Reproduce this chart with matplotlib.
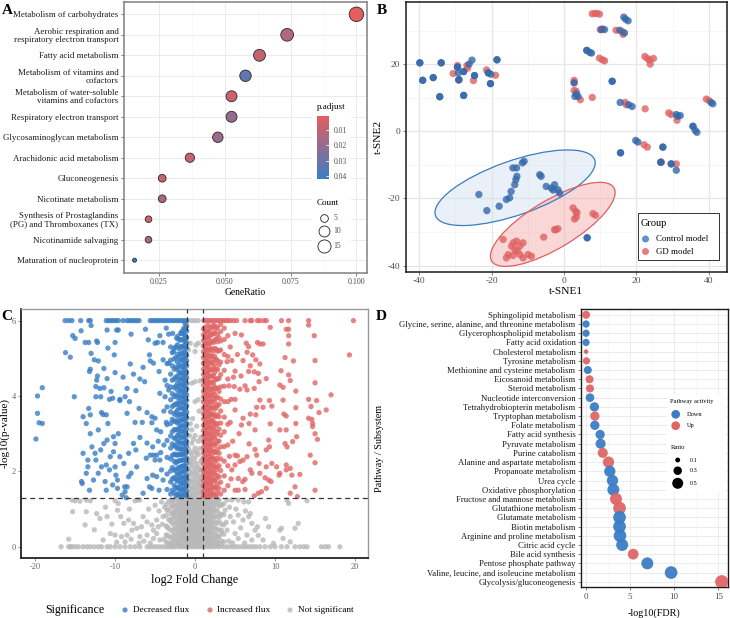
import numpy as np
import matplotlib
matplotlib.use('Agg')
import matplotlib.pyplot as plt
from matplotlib.colors import LinearSegmentedColormap, Normalize
from matplotlib.patches import Ellipse, Rectangle

plt.rcParams['font.family'] = ['Liberation Serif', 'DejaVu Serif']
plt.rcParams['axes.unicode_minus'] = False

# ---------------- data: panel A (enrichment dot plot) ----------------
a_terms = ['Metabolism of carbohydrates',
           'Aerobic respiration and\nrespiratory electron transport',
           'Fatty acid metabolism',
           'Metabolism of vitamins and\ncofactors',
           'Metabolism of water-soluble\nvitamins and cofactors',
           'Respiratory electron transport',
           'Glycosaminoglycan metabolism',
           'Arachidonic acid metabolism',
           'Gluconeogenesis',
           'Nicotinate metabolism',
           'Synthesis of Prostaglandins\n(PG) and Thromboxanes (TX)',
           'Nicotinamide salvaging',
           'Maturation of nucleoprotein']
a_ratio = [0.1000, 0.0737, 0.0632, 0.0579, 0.0526, 0.0526, 0.0474, 0.0368, 0.0263, 0.0263, 0.0211, 0.0211, 0.0158]
a_count = [19, 14, 12, 11, 10, 10, 9, 7, 5, 5, 4, 4, 3]
a_padj = [0.0007, 0.013, 0.008, 0.033, 0.007, 0.020, 0.019, 0.008, 0.009, 0.014, 0.007, 0.016, 0.042]
a_count_legend = [5, 10, 15]
a_padj_ticks = [0.01, 0.02, 0.03, 0.04]

# ---------------- data: panel B (t-SNE) ----------------
ctrl_pts = [(-39.8, 20.4), (-39.8, 20.4), (-39.0, 15.2), (-39.0, 15.2), (-36.1, 16.0), (-36.1, 16.0),
            (-33.9, 20.4), (-33.9, 20.4), (-34.3, 10.3), (-34.3, 10.3), (-29.4, 19.1), (-29.4, 19.1),
            (-29.2, 17.4), (-29.0, 15.4), (-29.0, 15.4), (-27.7, 10.7), (-27.7, 10.7), (-27.7, 17.8),
            (-27.7, 17.8), (-26.2, 20.0), (-25.4, 21.2), (-24.7, 16.6), (-24.7, 16.6), (-20.9, 17.4),
            (-20.9, 17.4), (-20.2, 17.0), (-20.3, 14.2), (-20.3, 14.2), (-18.5, 21.3), (-18.5, 21.3),
            (16.5, 34.0), (17.0, 33.4), (17.7, 32.9), (10.3, 30.3), (11.2, 30.3), (15.4, 30.1), (16.7, 29.3),
            (6.3, 24.1), (6.3, 24.1), (7.1, 23.5), (7.6, 23.3), (13.3, 14.9), (13.3, 14.9), (2.8, 14.4),
            (3.4, 11.1), (3.9, 10.4), (3.0, 10.4), (15.5, 8.6), (17.9, 7.9), (18.8, 7.4), (31.0, 5.0),
            (32.1, 4.7), (31.4, 4.5), (40.6, 8.6), (41.1, 8.2), (35.6, 1.5), (35.6, 1.5), (36.2, 0.3),
            (36.7, -0.3), (19.8, -2.7), (20.4, -3.2), (15.6, -6.4), (15.6, -6.4), (27.3, -4.7), (27.3, -4.7),
            (26.7, -9.2), (26.7, -9.2), (29.6, -9.7), (29.6, -9.7), (31.0, -11.6), (6.4, -31.7), (6.4, -31.7),
            (-23.5, -18.8), (-21.3, -23.6), (-17.9, -22.3), (-15.9, -20.3), (-15.0, -19.8), (-14.6, -17.9),
            (-13.6, -15.9), (-13.3, -14.4), (-13.0, -13.4), (-14.1, -10.9), (-13.1, -10.9), (-11.5, -9.4),
            (-11.0, -8.9), (-6.7, -12.9), (-6.3, -13.4), (-4.9, -16.4), (-3.5, -16.9), (-2.6, -15.9),
            (-1.7, -17.4), (-3.0, -17.5), (-1.2, -18.4)]
gd_pts = [(-30.6, 17.2), (-29.4, 19.6), (-29.1, 15.2), (-26.8, 19.6), (-26.6, 18.8), (-25.0, 15.1),
          (-21.4, 18.3), (-18.9, 16.7),
          (7.8, 35.0), (8.5, 35.1), (9.1, 35.1), (9.8, 34.9), (10.6, 30.5), (10.0, 30.3), (14.4, 30.1),
          (16.1, 29.7), (16.3, 28.9), (9.8, 21.8), (10.6, 21.3), (11.2, 21.0), (22.3, 22.3), (23.0, 21.7),
          (23.6, 21.2), (24.7, 21.7), (23.8, 20.0), (2.8, 15.2), (2.8, 14.6), (2.8, 12.2), (3.4, 11.9),
          (4.5, 9.4), (7.8, 10.1), (16.9, 8.6), (17.2, 7.9), (22.4, 6.7), (28.9, 5.5), (29.6, 5.0),
          (31.2, 3.3), (39.3, 9.6), (40.0, 9.2), (22.1, -4.0), (23.0, -4.7), (31.0, -9.7), (26.9, -9.2),
          (-16.8, -32.2), (-15.4, -36.7), (-14.5, -34.2), (-14.0, -33.2), (-13.6, -35.2), (-12.9, -35.7),
          (-12.2, -34.2), (-13.1, -32.7), (-11.3, -33.2), (-15.9, -37.7), (-14.1, -37.0), (-12.2, -36.7),
          (-11.3, -37.7), (-9.9, -36.7), (-9.0, -37.2), (-5.6, -31.5), (-2.6, -29.3), (-1.7, -29.0),
          (-2.3, -29.3), (2.5, -22.8), (3.2, -23.8), (3.4, -25.5), (2.9, -26.1), (3.6, -24.2),
          (8.0, -24.5), (8.7, -25.0)]
# confidence ellipses: centre x, centre y, semi-major, semi-minor, angle (deg)
ctrl_ellipse = [-13.5, -16.8, 23.5, 8.0, 21.0]
gd_ellipse = [-3.1, -27.7, 20.1, 7.0, 33.4]
b_groups = ['Control model', 'GD model']

# ---------------- data: panel C (volcano) ----------------
dec_capped_x = [-16.25, -15.8, -15.4, -14.3, -13.3, -13.1, -11.1, -10.8, -10.5, -10.2, -9.9, -9.6, -9.0,
                -8.5, -8.2, -7.9, -7.6, -7.3, -7.0, -5.6, -5.3, -5.0, -4.7, -4.4, -4.1, -3.8, -3.5, -3.2,
                -2.9, -2.6, -2.3, -2.0, -1.7, -1.4, -1.1]
dec_pts = [(-15.3, 5.6), (-15.0, 5.53), (-16.2, 5.15), (-15.6, 5.03), (-15.1, 3.98), (-19.1, 4.22),
           (-19.7, 4.0), (-19.7, 3.54), (-19.5, 3.29), (-19.1, 3.27), (-13.75, 5.42), (-13.3, 5.42),
           (-12.2, 5.42), (-12.3, 5.46), (-14.25, 5.73), (-13.0, 5.87), (-11.0, 5.75), (-9.8, 5.75),
           (-9.6, 5.75), (-8.0, 5.64), (-10.0, 5.42), (-10.9, 5.27), (-13.0, 5.13), (-12.6, 4.96),
           (-12.1, 4.93), (-10.1, 5.09), (-13.1, 4.71), (-13.2, 4.65), (-12.2, 4.53), (-11.4, 4.73),
           (-12.3, 4.42), (-11.9, 4.2), (-11.0, 4.46), (-10.0, 4.62), (-9.0, 4.5), (-8.1, 4.85),
           (-7.7, 4.58), (-6.9, 4.45), (-6.5, 4.76), (-6.3, 4.38), (-5.7, 5.09), (-5.6, 4.93), (-5.2, 4.87),
           (-4.7, 5.42), (-4.4, 5.6), (-6.2, 5.77), (-5.85, 5.49), (-5.0, 5.4), (-4.0, 5.42), (-3.6, 5.8),
           (-3.3, 5.64), (-12.4, 4.25), (-11.4, 4.22), (-10.5, 4.12), (-12.4, 3.98), (-11.8, 3.98),
           (-10.7, 3.91), (-9.4, 3.91), (-8.5, 4.2), (-8.75, 3.98), (-7.4, 4.14), (-8.2, 3.85), (-7.0, 3.67),
           (-8.5, 3.54), (-9.4, 3.88), (-10.3, 3.94), (-13.3, 3.67), (-14.0, 3.45), (-13.6, 3.27),
           (-13.1, 3.5), (-11.7, 3.56), (-11.5, 3.51), (-11.1, 3.5), (-10.9, 3.27), (-6.0, 3.56),
           (-5.4, 3.45), (-5.0, 3.41), (-4.4, 4.07), (-3.75, 3.98), (-3.3, 4.16), (-3.75, 4.42), (-4.5, 4.65),
           (-4.0, 4.96), (-3.3, 4.87), (-2.7, 5.18), (-2.8, 5.66), (-2.3, 5.53), (-1.7, 5.66),
           (-19.9, 2.86), (-14.0, 2.48), (-14.2, 1.73), (-14.1, 1.68), (-13.6, 1.95), (-13.4, 2.3),
           (-13.4, 2.12), (-13.1, 3.0), (-12.9, 2.65), (-12.5, 2.48), (-13.2, 1.5), (-12.7, 1.77),
           (-12.1, 3.1), (-12.4, 2.3), (-12.1, 1.95), (-11.8, 2.57), (-11.7, 2.12), (-11.4, 2.74),
           (-11.1, 2.17), (-11.0, 2.83), (-11.25, 1.73), (-11.1, 1.5), (-10.6, 2.39), (-10.7, 2.04),
           (-10.2, 2.92), (-10.0, 2.74), (-10.2, 2.52), (-10.0, 2.12), (-9.9, 1.9), (-9.7, 1.77),
           (-10.3, 1.64), (-9.7, 1.55), (-9.6, 3.0), (-9.4, 2.39), (-8.9, 2.21), (-8.75, 1.46), (-8.5, 1.59),
           (-8.3, 1.86), (-8.0, 1.95), (-7.7, 2.74), (-7.4, 2.57), (-7.3, 2.12), (-8.3, 2.48), (-8.8, 1.59),
           (-9.1, 1.37), (-8.6, 1.3), (-6.5, 1.42), (-6.0, 1.81), (-5.7, 1.59), (-5.4, 1.55), (-5.3, 1.9),
           (-5.0, 2.3), (-4.4, 2.3), (-4.2, 2.04), (-6.1, 2.35), (-5.2, 2.43), (-4.8, 1.86), (-4.5, 1.5),
           (-4.0, 1.77), (-5.6, 2.43), (-4.8, 2.43), (-5.4, 3.29), (-4.8, 3.1), (-4.3, 3.05), (-6.6, 3.3),
           (-7.5, 3.3), (-6.9, 2.9), (-6.0, 2.75), (-5.3, 2.65), (-4.6, 2.8), (-3.9, 2.7), (-3.6, 3.3),
           (-3.9, 3.6), (-4.3, 2.5)]
dec_band_x = [-1.05, -1.25, -1.4, -1.6, -1.8, -2.0, -2.2, -2.4, -2.6, -2.85, -3.05, -3.5]
dec_band_y = [
    [1.34, 1.47, 1.63, 1.78, 1.9, 2.06, 2.22, 2.35, 2.51, 2.68, 2.8, 2.97, 3.12, 3.26, 3.43, 3.57, 3.74,
     3.88, 4.03, 4.19, 4.33, 4.49, 4.62, 4.8, 4.94, 5.08, 5.27, 5.41, 5.55, 5.72, 5.86],
    [1.4, 1.55, 1.7, 1.84, 2.0, 2.13, 2.29, 2.44, 2.58, 2.73, 2.88, 3.03, 3.18, 3.34, 3.48, 3.63, 3.79,
     3.93, 4.08, 4.24, 4.39, 4.54, 4.69, 4.84, 4.99, 5.14, 5.3, 5.45, 5.6, 5.76, 5.92],
    [1.41, 1.56, 1.72, 1.86, 2.02, 2.15, 2.31, 2.47, 2.61, 2.76, 2.92, 3.05, 3.21, 3.37, 3.52, 3.66, 3.83,
     3.97, 4.11, 4.27, 4.42, 4.57, 4.73, 4.88, 5.03, 5.19, 5.34, 5.49, 5.64, 5.8],
    [1.36, 1.52, 1.68, 1.82, 1.99, 2.14, 2.3, 2.45, 2.6, 2.75, 2.91, 3.07, 3.22, 3.38, 3.53, 3.69, 3.84,
     4.0, 4.16, 4.31, 4.47, 4.63, 4.79, 4.96, 5.13, 5.31, 5.5, 5.72],
    [1.33, 1.5, 1.66, 1.83, 1.98, 2.12, 2.29, 2.44, 2.58, 2.74, 2.9, 3.06, 3.19, 3.35, 3.5, 3.68, 3.81,
     3.96, 4.14, 4.3, 4.45, 4.6, 4.77, 4.95, 5.12, 5.3, 5.48, 5.67],
    [1.41, 1.58, 1.76, 1.93, 2.1, 2.28, 2.45, 2.63, 2.8, 2.98, 3.15, 3.33, 3.51, 3.69, 3.87, 4.05, 4.24,
     4.43, 4.62, 4.82, 5.03, 5.25, 5.5],
    [1.38, 1.55, 1.74, 1.9, 2.07, 2.26, 2.43, 2.6, 2.77, 2.95, 3.1, 3.28, 3.46, 3.62, 3.79, 3.97, 4.16,
     4.34, 4.52, 4.71, 4.9, 5.11, 5.36, 5.58],
    [1.36, 1.57, 1.79, 2.0, 2.22, 2.44, 2.66, 2.88, 3.1, 3.33, 3.56, 3.79, 4.02, 4.26, 4.5, 4.76, 5.02, 5.3],
    [1.44, 1.63, 1.84, 2.05, 2.27, 2.46, 2.68, 2.88, 3.11, 3.33, 3.52, 3.76, 3.98, 4.22, 4.45, 4.71, 4.98, 5.27],
    [1.5, 1.8, 2.1, 2.42, 2.73, 3.05, 3.38, 3.72, 4.06, 4.42, 4.8, 5.15],
    [1.4, 1.72, 2.01, 2.33, 2.62, 2.94, 3.27, 3.58, 3.9, 4.24, 4.58, 4.95, 5.3],
    [1.52, 1.93, 2.37, 2.82, 3.24, 3.71, 4.28, 4.86]]

inc_capped_x = [1.1, 1.4, 1.7, 2.0, 2.3, 2.6, 2.9, 3.2, 3.5, 3.8, 4.1, 4.4, 4.8, 5.2, 6.25, 6.9, 7.1, 7.8,
                8.1, 8.6, 8.9, 10.8, 11.7, 14.2, 19.8]
inc_pts = [(9.4, 5.82), (11.4, 5.77), (11.7, 5.77), (14.2, 5.88), (14.9, 5.6), (11.7, 5.6), (5.0, 5.66),
           (5.8, 5.62), (6.4, 5.4), (7.8, 5.42), (8.1, 5.38), (8.5, 5.38), (6.7, 5.31), (11.7, 5.38),
           (6.5, 5.16), (7.2, 5.09), (7.6, 4.96), (6.9, 4.8), (8.1, 4.85), (6.0, 4.94), (4.0, 4.91),
           (4.6, 4.94), (12.3, 4.93), (11.25, 5.02), (15.0, 4.94), (19.3, 5.09), (5.0, 4.66), (5.75, 4.53),
           (6.7, 4.65), (7.4, 4.64), (7.9, 4.6), (8.0, 4.38), (8.9, 4.46), (10.75, 4.67), (11.7, 4.56),
           (11.9, 4.41), (15.0, 4.35), (4.25, 4.27), (4.9, 4.25), (5.6, 4.18), (6.25, 4.27), (6.5, 4.16),
           (7.4, 4.2), (10.6, 4.29), (11.0, 4.23), (12.6, 4.13), (14.2, 3.91), (15.2, 3.88), (17.0, 4.03),
           (4.5, 3.91), (5.0, 3.91), (8.1, 3.89), (9.3, 3.88), (11.0, 3.89), (7.7, 3.7), (8.5, 3.7),
           (9.6, 3.73), (12.6, 3.69), (14.5, 3.72), (15.5, 3.56), (16.4, 3.63), (6.9, 3.52), (7.6, 3.5),
           (11.1, 3.52), (11.4, 3.47), (14.2, 3.41), (14.6, 3.38), (14.7, 3.27), (6.0, 3.41), (5.0, 3.63),
           (5.8, 3.23), (6.75, 3.27), (7.5, 3.1), (9.4, 3.26), (10.6, 3.1), (11.4, 3.1), (12.6, 3.27),
           (12.7, 2.92), (14.7, 3.19), (15.0, 3.0), (15.3, 2.85), (6.75, 2.73), (7.5, 2.58), (9.2, 2.83),
           (9.3, 2.65), (11.25, 2.74), (11.5, 2.65), (12.2, 2.79), (14.4, 2.43), (15.0, 2.23), (5.0, 2.43),
           (5.3, 2.41), (6.5, 2.39), (7.7, 2.43), (8.9, 2.57), (5.6, 2.26), (8.0, 2.21), (8.9, 2.12),
           (9.6, 2.21), (10.2, 2.12), (11.4, 2.17), (11.9, 2.08), (11.4, 2.04), (6.9, 2.04), (7.1, 1.95),
           (5.4, 1.81), (6.25, 1.79), (5.96, 1.73), (8.1, 1.95), (8.75, 1.83), (9.2, 1.77), (9.5, 1.73),
           (10.5, 1.9), (10.6, 1.95), (12.1, 1.9), (13.1, 1.92), (12.5, 1.59), (15.0, 1.5), (5.0, 1.5),
           (5.4, 1.5), (6.25, 1.52), (7.9, 1.42), (8.3, 1.46), (8.9, 1.55), (11.9, 1.42), (12.8, 1.33),
           (7.4, 1.35), (6.0, 2.3), (4.6, 2.04), (5.0, 2.17), (4.4, 3.3), (4.7, 2.8), (4.3, 2.4), (4.5, 1.8),
           (4.8, 4.5), (5.3, 5.1), (4.4, 5.3), (5.5, 3.0)]
inc_band_x = [1.05, 1.25, 1.4, 1.6, 1.75, 1.95, 2.1, 2.3, 2.45, 2.65, 2.8, 3.0, 3.2, 3.65, 4.1]
inc_band_y = [
    [1.33, 1.46, 1.61, 1.75, 1.91, 2.04, 2.19, 2.36, 2.49, 2.63, 2.79, 2.94, 3.08, 3.22, 3.39, 3.53, 3.68,
     3.84, 3.98, 4.12, 4.28, 4.43, 4.57, 4.71, 4.87, 5.02, 5.17, 5.33, 5.47, 5.62, 5.78],
    [1.36, 1.51, 1.66, 1.8, 1.96, 2.1, 2.25, 2.4, 2.54, 2.69, 2.84, 2.99, 3.13, 3.28, 3.43, 3.58, 3.72,
     3.87, 4.02, 4.17, 4.32, 4.47, 4.61, 4.76, 4.91, 5.06, 5.21, 5.36, 5.51, 5.66, 5.82],
    [1.39, 1.53, 1.69, 1.83, 1.97, 2.13, 2.27, 2.42, 2.57, 2.71, 2.86, 3.01, 3.15, 3.31, 3.45, 3.61, 3.76,
     3.9, 4.05, 4.2, 4.35, 4.5, 4.64, 4.79, 4.95, 5.1, 5.24, 5.4, 5.55, 5.7],
    [1.42, 1.57, 1.72, 1.88, 2.03, 2.18, 2.33, 2.48, 2.63, 2.78, 2.93, 3.08, 3.24, 3.39, 3.54, 3.69, 3.84,
     3.99, 4.14, 4.3, 4.45, 4.6, 4.76, 4.91, 5.07, 5.23, 5.39, 5.56, 5.73, 5.88],
    [1.35, 1.5, 1.66, 1.81, 1.95, 2.11, 2.25, 2.41, 2.55, 2.7, 2.85, 3.0, 3.16, 3.3, 3.46, 3.6, 3.75,
     3.91, 4.06, 4.22, 4.37, 4.53, 4.68, 4.85, 5.01, 5.18, 5.35, 5.52, 5.69],
    [1.34, 1.5, 1.67, 1.83, 2.0, 2.16, 2.33, 2.49, 2.66, 2.82, 2.99, 3.16, 3.33, 3.5, 3.67, 3.84, 4.01,
     4.18, 4.35, 4.52, 4.7, 4.88, 5.06, 5.24, 5.43, 5.62, 5.82],
    [1.42, 1.58, 1.74, 1.9, 2.06, 2.22, 2.38, 2.55, 2.71, 2.87, 3.03, 3.2, 3.36, 3.52, 3.69, 3.86, 4.02,
     4.19, 4.36, 4.53, 4.7, 4.88, 5.06, 5.25, 5.44, 5.63, 5.8],
    [1.4, 1.59, 1.78, 1.97, 2.16, 2.35, 2.54, 2.74, 2.93, 3.13, 3.32, 3.52, 3.72, 3.92, 4.12, 4.33, 4.54,
     4.75, 4.97, 5.19, 5.42, 5.66, 5.88],
    [1.37, 1.55, 1.74, 1.93, 2.12, 2.31, 2.5, 2.69, 2.88, 3.07, 3.26, 3.46, 3.65, 3.84, 4.04, 4.23, 4.43,
     4.63, 4.84, 5.05, 5.26, 5.48, 5.67, 5.85],
    [1.35, 1.58, 1.81, 2.04, 2.27, 2.5, 2.74, 2.98, 3.22, 3.46, 3.7, 3.95, 4.2, 4.45, 4.71, 4.97, 5.24,
     5.52, 5.78],
    [1.45, 1.67, 1.89, 2.12, 2.35, 2.58, 2.81, 3.04, 3.27, 3.5, 3.74, 3.97, 4.21, 4.45, 4.7, 4.94, 5.19,
     5.44, 5.64, 5.83],
    [1.55, 1.85, 2.15, 2.48, 2.8, 3.12, 3.45, 3.78, 4.12, 4.47, 4.83, 5.2, 5.55],
    [1.4, 1.71, 2.02, 2.33, 2.65, 2.96, 3.28, 3.6, 3.92, 4.24, 4.57, 4.9, 5.22, 5.46, 5.71, 5.9],
    [1.5, 1.88, 2.27, 2.66, 3.05, 3.44, 3.85, 4.26, 4.68, 5.1, 5.5, 5.8],
    [1.62, 2.15, 2.7, 3.25, 3.85, 4.45, 5.05, 5.6]]

ns_zero_x = [-16.75, -15.8, -15.6, -15.4, -15.0, -14.6, -14.0, -13.5, -13.1, -12.6, -12.1, -11.7, -11.0,
             -10.6, -10.0, -9.4, -8.75, -8.1, -7.5, -6.9, -6.0, -5.6, -5.2, -4.8, -4.4, -4.0, 4.0, 4.4, 4.8,
             5.2, 5.6, 6.0, 6.4, 6.8, 7.2, 7.6, 8.1, 8.75, 9.4, 10.0, 10.8, 11.5, 12.5, 13.1, 13.6, 14.0,
             15.8, 16.3, 16.7, 18.1]
ns_pts = [(-15.8, 0.2), (-15.4, 1.24), (-15.0, 1.22), (-14.4, 1.21), (-13.6, 1.24), (-13.1, 1.22),
          (-15.3, 0.93), (-13.6, 0.93), (-13.75, 0.58), (-12.3, 0.88), (-11.9, 0.75), (-11.0, 0.8),
          (-10.0, 1.22), (-9.6, 1.15), (-9.7, 0.97), (-9.3, 0.8), (-8.9, 0.62), (-8.3, 0.71), (-7.7, 0.62),
          (-7.9, 0.44), (-7.3, 0.49), (-6.7, 0.53), (-7.2, 1.24), (-7.5, 1.22), (-6.9, 1.24), (-6.5, 0.8),
          (-6.0, 0.66), (-5.4, 0.58), (-5.2, 0.44), (-4.8, 0.71), (-4.6, 0.53), (-4.0, 0.8), (-3.5, 0.97),
          (-3.5, 0.53), (-4.2, 1.19), (-10.6, 0.35), (-10.0, 0.31), (-11.5, 0.18), (-9.2, 0.27),
          (-8.75, 0.13), (-8.5, 0.31), (-6.9, 0.27), (-6.0, 0.31), (-5.2, 0.22), (-4.8, 0.35), (-4.4, 0.18),
          (-3.5, 0.31), (-3.1, 0.71), (-2.7, 0.88), (-2.9, 1.15), (-5.8, 1.0), (-5.0, 1.1), (-4.5, 0.95),
          (-4.1, 0.6), (-3.9, 0.2), (-5.6, 0.1), (-6.4, 0.15), (-7.0, 0.1), (-8.0, 0.2), (-9.8, 0.12),
          (-10.4, 0.6), (-12.6, 0.45), (-11.2, 1.05), (-8.2, 1.0), (-3.8, 1.05),
          (2.9, 1.22), (3.3, 1.1), (4.0, 1.24), (4.6, 1.24), (5.4, 1.24), (6.1, 1.19), (6.7, 1.19),
          (11.5, 1.24), (11.7, 1.15), (14.0, 1.22), (2.3, 0.93), (3.1, 0.8), (3.75, 0.97), (4.4, 0.8),
          (4.8, 0.66), (5.4, 0.84), (6.0, 0.71), (6.7, 0.8), (7.1, 0.62), (6.9, 0.88), (7.5, 0.44),
          (7.8, 0.53), (9.2, 0.53), (10.6, 0.44), (10.8, 0.49), (12.5, 0.49), (12.9, 0.62), (4.0, 0.44),
          (5.0, 0.35), (5.4, 0.22), (6.5, 0.31), (7.1, 0.18), (8.5, 0.18), (9.8, 0.09), (11.0, 0.22),
          (11.9, 0.13), (2.9, 0.27), (3.3, 0.44), (4.3, 1.05), (5.1, 1.0), (5.7, 0.5), (6.3, 0.95),
          (4.2, 0.15), (4.7, 0.1), (7.9, 0.3), (8.8, 0.75), (6.2, 0.1), (3.9, 0.65),
          (-0.83, 6.0), (-0.4, 6.0), (0.0, 6.0), (0.4, 6.0), (0.4, 5.4), (0.1, 5.35), (0.0, 5.18),
          (-0.83, 5.22), (-0.6, 5.4), (0.0, 4.38), (-0.4, 4.34), (0.6, 4.4), (0.4, 3.9), (0.0, 3.85),
          (-1.0, 3.4), (-0.6, 3.26), (0.5, 3.6), (-0.3, 3.4), (0.2, 3.2), (0.7, 2.9), (-0.7, 2.95),
          (0.6, 2.6), (-0.6, 2.3), (0.8, 2.25), (0.7, 1.7), (-0.9, 1.75), (0.9, 1.5)]
ns_band_x = [-3.6, -3.3, -3.0, -2.75, -2.5, -2.25, -2.0, -1.8, -1.6, -1.4, -1.2, -1.0, -0.8, -0.6, -0.4,
             -0.2, 0.0, 0.2, 0.4, 0.6, 0.8, 1.0, 1.2, 1.4, 1.6, 1.8, 2.0, 2.25, 2.5, 2.75, 3.0, 3.3, 3.6]
ns_band_y = [
    [0.0, 0.12, 0.31, 0.55, 0.83, 1.12],
    [0.0, 0.1, 0.27, 0.48, 0.72, 0.97, 1.2],
    [0.0, 0.09, 0.24, 0.43, 0.66, 0.87, 1.06, 1.24],
    [0.0, 0.06, 0.16, 0.3, 0.45, 0.6, 0.76, 0.92, 1.08, 1.23],
    [0.0, 0.08, 0.19, 0.33, 0.49, 0.64, 0.79, 0.96, 1.1, 1.25],
    [0.03, 0.12, 0.23, 0.36, 0.48, 0.6, 0.73, 0.86, 0.98, 1.11, 1.24],
    [0.0, 0.07, 0.17, 0.29, 0.41, 0.54, 0.67, 0.79, 0.92, 1.04, 1.17, 1.28],
    [0.02, 0.1, 0.21, 0.32, 0.44, 0.56, 0.68, 0.8, 0.92, 1.04, 1.16, 1.27],
    [0.0, 0.06, 0.15, 0.26, 0.37, 0.49, 0.61, 0.72, 0.84, 0.97, 1.09, 1.21, 1.29],
    [0.03, 0.1, 0.2, 0.31, 0.42, 0.54, 0.66, 0.77, 0.89, 1.01, 1.13, 1.25],
    [0.0, 0.05, 0.13, 0.23, 0.34, 0.45, 0.57, 0.68, 0.8, 0.91, 1.03, 1.15, 1.27],
    [0.02, 0.1, 0.2, 0.3, 0.42, 0.53, 0.64, 0.76, 0.88, 1.0, 1.12, 1.24],
    [0.0, 0.06, 0.14, 0.25, 0.36, 0.47, 0.59, 0.7, 0.82, 0.94, 1.06, 1.18, 1.29, 1.45, 1.62, 1.83, 2.05, 2.27, 2.6],
    [0.03, 0.1, 0.2, 0.31, 0.43, 0.54, 0.65, 0.77, 0.89, 1.01, 1.13, 1.25, 1.38, 1.55, 1.75, 1.98, 2.2, 2.5],
    [0.0, 0.07, 0.16, 0.27, 0.38, 0.5, 0.62, 0.73, 0.85, 0.97, 1.09, 1.21, 1.35, 1.52, 1.7, 1.91, 2.14, 2.4, 2.75, 3.1],
    [0.02, 0.1, 0.19, 0.3, 0.41, 0.52, 0.64, 0.76, 0.87, 0.99, 1.11, 1.23, 1.4, 1.58, 1.78, 2.0, 2.25, 2.52, 2.85],
    [0.0, 0.05, 0.13, 0.24, 0.35, 0.46, 0.58, 0.69, 0.81, 0.93, 1.05, 1.17, 1.3, 1.47, 1.66, 1.88, 2.1, 2.36, 2.62, 2.95],
    [0.03, 0.1, 0.2, 0.31, 0.42, 0.53, 0.65, 0.76, 0.88, 1.0, 1.12, 1.24, 1.4, 1.57, 1.77, 1.99, 2.22, 2.5],
    [0.0, 0.06, 0.15, 0.26, 0.37, 0.48, 0.6, 0.71, 0.83, 0.95, 1.07, 1.19, 1.33, 1.5, 1.68, 1.9, 2.12, 2.45, 2.8],
    [0.02, 0.11, 0.21, 0.32, 0.43, 0.55, 0.66, 0.78, 0.9, 1.02, 1.14, 1.26, 1.42, 1.6, 1.82, 2.05],
    [0.0, 0.07, 0.16, 0.27, 0.38, 0.49, 0.61, 0.72, 0.84, 0.96, 1.08, 1.2, 1.29, 1.44, 1.6, 1.8, 2.02, 2.3],
    [0.03, 0.1, 0.2, 0.31, 0.42, 0.53, 0.65, 0.77, 0.89, 1.01, 1.13, 1.25],
    [0.0, 0.05, 0.14, 0.24, 0.35, 0.46, 0.58, 0.69, 0.81, 0.92, 1.04, 1.16, 1.28],
    [0.02, 0.1, 0.21, 0.32, 0.44, 0.56, 0.68, 0.8, 0.92, 1.04, 1.16, 1.27],
    [0.0, 0.06, 0.16, 0.27, 0.38, 0.5, 0.62, 0.74, 0.86, 0.98, 1.1, 1.22],
    [0.03, 0.12, 0.23, 0.35, 0.47, 0.59, 0.71, 0.83, 0.95, 1.07, 1.2],
    [0.0, 0.07, 0.18, 0.3, 0.42, 0.55, 0.68, 0.8, 0.93, 1.05, 1.18, 1.29],
    [0.02, 0.12, 0.24, 0.37, 0.5, 0.63, 0.77, 0.9, 1.04, 1.18],
    [0.0, 0.09, 0.2, 0.34, 0.5, 0.65, 0.8, 0.97, 1.12, 1.26],
    [0.04, 0.15, 0.29, 0.45, 0.62, 0.79, 0.96, 1.13, 1.27],
    [0.0, 0.1, 0.26, 0.45, 0.67, 0.88, 1.08, 1.25],
    [0.02, 0.15, 0.36, 0.6, 0.86, 1.12],
    [0.0, 0.13, 0.33, 0.58, 0.85, 1.14]]
c_capped = 6.0
c_fc_cut = 1.0
c_p_cut = 1.301
c_classes = ['Decreased flux', 'Increased flux', 'Not significant']

# ---------------- data: panel D (pathway dot plot) ----------------
d_paths = ['Sphingolipid metabolism', 'Glycine, serine, alanine, and threonine metabolism',
           'Glycerophospholipid metabolism', 'Fatty acid oxidation', 'Cholesterol metabolism',
           'Tyrosine metabolism', 'Methionine and cysteine metabolism', 'Eicosanoid metabolism',
           'Steroid metabolism', 'Nucleotide interconversion', 'Tetrahydrobiopterin metabolism',
           'Tryptophan metabolism', 'Folate metabolism', 'Fatty acid synthesis', 'Pyruvate metabolism',
           'Purine catabolism', 'Alanine and aspartate metabolism', 'Propanoate metabolism', 'Urea cycle',
           'Oxidative phosphorylation', 'Fructose and mannose metabolism', 'Glutathione metabolism',
           'Glutamate metabolism', 'Biotin metabolism', 'Arginine and proline metabolism',
           'Citric acid cycle', 'Bile acid synthesis', 'Pentose phosphate pathway',
           'Valine, leucine, and isoleucine metabolism', 'Glycolysis/gluconeogenesis']
d_fdr = [0.0, 0.0, 0.0, 0.0, 0.0, 0.05, 0.2, 0.4, 0.45, 0.45, 0.95, 1.0, 1.0, 1.6, 1.65, 1.9, 2.55, 2.7,
         3.0, 3.1, 3.4, 3.8, 3.8, 3.8, 3.85, 4.1, 5.35, 6.95, 9.65, 15.4]
d_activity = ['Up', 'Down', 'Down', 'Down', 'Up', 'Up', 'Down', 'Up', 'Up', 'Down', 'Down', 'Up', 'Down',
              'Down', 'Down', 'Up', 'Up', 'Down', 'Down', 'Down', 'Up', 'Up', 'Down', 'Down', 'Down', 'Down',
              'Up', 'Down', 'Down', 'Up']
d_ratio = [0.27, 0.22, 0.22, 0.22, 0.09, 0.22, 0.27, 0.27, 0.27, 0.31, 0.36, 0.36, 0.36, 0.36, 0.42, 0.42,
           0.53, 0.53, 0.53, 0.60, 0.60, 0.67, 0.67, 0.67, 0.67, 0.60, 0.48, 0.60, 0.67, 0.74]
d_ratio_legend = [0.1, 0.3, 0.5]

# ---------------- styling ----------------
W, H = 730, 618
BLUE = '#3A7DC4'
RED = '#E06666'
GREY = '#B8B8B8'
TICK_C = '#4D4D4D'

fig = plt.figure(figsize=(7.3, 6.18), dpi=100)


def px_axes(left, top, right, bottom):
    # axes placed by pixel box (origin at top-left)
    return fig.add_axes([left / W, 1 - bottom / H, (right - left) / W, (bottom - top) / H])


def area(d_px):
    # marker diameter in pixels -> scatter size (points^2)
    return (d_px * 0.72) ** 2


def size_a(c):
    return area(4 + 10.5 * np.sqrt((c - 3) / 16))


def size_d(r):
    return area(15.5 * np.sqrt(r))


# ================= Panel A =================
axA = px_axes(124, 2, 367, 272.5)
cmap_p = LinearSegmentedColormap.from_list('padj', ['#E45E5E', '#3A7DC4'])
norm_p = Normalize(min(a_padj), max(a_padj))
yA = np.arange(len(a_terms))
axA.scatter(a_ratio, yA, s=[size_a(c) for c in a_count], c=a_padj, cmap=cmap_p, norm=norm_p,
            edgecolors='#2a2a2a', linewidths=0.6, zorder=3)
axA.set_xlim(0.0118, 0.1040)
axA.set_ylim(len(a_terms) - 0.4, -0.6)
axA.set_yticks(yA)
axA.set_yticklabels(a_terms, fontsize=6.4, color='#1a1a1a', linespacing=1.0)
axA.set_xticks([0.025, 0.050, 0.075, 0.100])
axA.set_xticklabels(['0.025', '0.050', '0.075', '0.100'])
axA.set_xticks([0.0375, 0.0625, 0.0875], minor=True)
axA.tick_params(axis='x', labelsize=5.8, labelcolor=TICK_C, color=TICK_C, length=2, width=0.5, pad=2)
axA.tick_params(axis='y', color=TICK_C, length=2, width=0.5, pad=2)
axA.tick_params(which='minor', length=0)
axA.set_axisbelow(True)
axA.grid(True, which='major', color='#E8E8E8', lw=0.6)
axA.grid(True, which='minor', axis='x', color='#F3F3F3', lw=0.4)
for sp in axA.spines.values():
    sp.set_color('#808080')
    sp.set_linewidth(1.1)
axA.set_xlabel('GeneRatio', fontsize=6.9)
axA.xaxis.set_label_coords(0.5, (272.5 - 292.7) / 270.5)
axA.xaxis.label.set_va('center')
axA.add_patch(Rectangle((0.775, 0.06), 0.16, 0.58, transform=axA.transAxes, facecolor='white',
                        edgecolor='none', zorder=1))

caxA = px_axes(317, 115.7, 329, 179)
sm = plt.cm.ScalarMappable(norm=norm_p, cmap=cmap_p)
cb = fig.colorbar(sm, cax=caxA)
caxA.invert_yaxis()
cb.set_ticks(a_padj_ticks)
cb.set_ticklabels([f'{t:.2f}' for t in a_padj_ticks])
cb.outline.set_visible(False)
caxA.tick_params(labelsize=5.5, labelcolor=TICK_C, color='white', direction='in', length=2.5, width=0.6, pad=3.5)

# ================= Panel B =================
axB = px_axes(405.7, 1.7, 727, 271.7)
bx_c, by_c = np.array(ctrl_pts).T
bx_g, by_g = np.array(gd_pts).T
for ell, edge, face in [(ctrl_ellipse, '#3C7BC0', '#D6E2F3'), (gd_ellipse, '#E05E5E', '#F4B0B0')]:
    cx, cy, a_, b_, ang = ell
    axB.add_patch(Ellipse((cx, cy), 2 * a_, 2 * b_, angle=ang, facecolor=face, alpha=0.5,
                          edgecolor='none', zorder=1.5))
    axB.add_patch(Ellipse((cx, cy), 2 * a_, 2 * b_, angle=ang, facecolor='none',
                          edgecolor=edge, lw=0.9, zorder=1.6))
axB.scatter(bx_g, by_g, s=area(7.3), color='#E06262', alpha=0.8, edgecolors='none', zorder=3)
axB.scatter(bx_c, by_c, s=area(7.3), color='#3467AA', alpha=0.8, edgecolors='none', zorder=3)
axB.set_xlim(-43.7, 45.0)
axB.set_ylim(-41.8, 38.6)
axB.set_xticks([-40, -20, 0, 20, 40])
axB.set_yticks([-40, -20, 0, 20])
axB.set_xticks([-30, -10, 10, 30], minor=True)
axB.set_yticks([-30, -10, 10, 30], minor=True)
axB.tick_params(labelsize=6.8, labelcolor=TICK_C, color=TICK_C, length=2, width=0.5, pad=2)
axB.tick_params(which='minor', length=0)
axB.set_axisbelow(True)
axB.grid(True, which='major', color='#E6E6E6', lw=0.9)
axB.grid(True, which='minor', color='#F3F3F3', lw=0.5)
for sp in axB.spines.values():
    sp.set_color('#1a1a1a')
    sp.set_linewidth(1.1)
axB.set_xlabel('t-SNE1', fontsize=8.2)
axB.xaxis.set_label_coords(0.5, (271.7 - 291.7) / 270)
axB.xaxis.label.set_va('center')
axB.set_ylabel('t-SNE2', fontsize=8.2)
axB.yaxis.set_label_coords((378 - 405.7) / 321.3, 0.5)
axB.yaxis.label.set_va('center')

# ================= Panel C =================
axC = px_axes(20.7, 309.3, 368.3, 557.7)
ns_x = list(ns_zero_x) + [p[0] for p in ns_pts]
ns_y = [0.0] * len(ns_zero_x) + [p[1] for p in ns_pts]
for bx, col in zip(ns_band_x, ns_band_y):
    ns_x += [bx] * len(col)
    ns_y += col
dec_x = list(dec_capped_x) + [p[0] for p in dec_pts]
dec_y = [c_capped] * len(dec_capped_x) + [p[1] for p in dec_pts]
for bx, col in zip(dec_band_x, dec_band_y):
    dec_x += [bx] * len(col)
    dec_y += col
inc_x = list(inc_capped_x) + [p[0] for p in inc_pts]
inc_y = [c_capped] * len(inc_capped_x) + [p[1] for p in inc_pts]
for bx, col in zip(inc_band_x, inc_band_y):
    inc_x += [bx] * len(col)
    inc_y += col
c_size = area(5.3)
axC.scatter(ns_x, ns_y, s=c_size, color=GREY, alpha=0.8, edgecolors='none', zorder=2)
axC.scatter(dec_x, dec_y, s=c_size, color=BLUE, alpha=0.8, edgecolors='none', zorder=3)
axC.scatter(inc_x, inc_y, s=c_size, color=RED, alpha=0.8, edgecolors='none', zorder=3)
for v in (-c_fc_cut, c_fc_cut):
    axC.axvline(v, color='#333333', lw=0.9, ls=(0, (4, 3)), zorder=4)
axC.axhline(c_p_cut, color='#333333', lw=0.9, ls=(0, (4, 3)), zorder=4)
axC.set_xlim(-21.8, 21.66)
axC.set_ylim(-0.29, 6.30)
axC.set_xticks([-20, -10, 0, 10, 20])
axC.set_yticks([0, 2, 4, 6])
axC.tick_params(labelsize=6.0, labelcolor='#666666', color='#666666', length=2, width=0.5, pad=1.5)
for k in ('top', 'right'):
    axC.spines[k].set_color('#9a9a9a')
    axC.spines[k].set_linewidth(1.0)
for k in ('left', 'bottom'):
    axC.spines[k].set_color('#222222')
    axC.spines[k].set_linewidth(1.3)
axC.set_xlabel('log2 Fold Change', fontsize=8.7)
axC.xaxis.set_label_coords(0.5, (557.7 - 580) / 248.4)
axC.xaxis.label.set_va('center')
axC.set_ylabel('-log10(p-value)', fontsize=8.0)
axC.yaxis.set_label_coords((5 - 20.7) / 347.6, 0.5)
axC.yaxis.label.set_va('center')

# ================= Panel D =================
axD = px_axes(581, 309.3, 727.7, 587.3)
yD = np.arange(len(d_paths))
d_colors = [BLUE if a == 'Down' else RED for a in d_activity]
axD.scatter(d_fdr, yD, s=[size_d(r) for r in d_ratio], c=d_colors, alpha=0.95, edgecolors='none', zorder=3)
axD.set_xlim(-0.57, 16.07)
axD.set_ylim(len(d_paths) - 0.4, -0.6)
axD.set_yticks(yD)
axD.set_yticklabels(d_paths, fontsize=6.2, color='#1a1a1a')
axD.set_xticks([0, 5, 10, 15])
axD.set_xticks([2.5, 7.5, 12.5], minor=True)
axD.tick_params(axis='x', labelsize=6.5, labelcolor=TICK_C, color=TICK_C, length=2, width=0.5, pad=2)
axD.tick_params(axis='y', color=TICK_C, length=2, width=0.5, pad=2)
axD.tick_params(which='minor', length=0)
axD.set_axisbelow(True)
axD.grid(True, which='major', color='#E8E8E8', lw=0.6)
axD.grid(True, which='minor', axis='x', color='#F3F3F3', lw=0.4)
for sp in axD.spines.values():
    sp.set_color('#1a1a1a')
    sp.set_linewidth(1.0)
axD.set_xlabel('-log10(FDR)', fontsize=7.3)
axD.xaxis.set_label_coords(0.5, (587.3 - 613.3) / 278)
axD.xaxis.label.set_va('center')
axD.set_ylabel('Pathway / Subsystem', fontsize=7.3)
axD.yaxis.set_label_coords((380 - 581) / 146.7, 0.5)
axD.yaxis.label.set_va('center')
axD.add_patch(Rectangle(((667 - 581) / 146.7, (587.3 - 492) / 278), (726 - 667) / 146.7, (492 - 394) / 278,
                        transform=axD.transAxes, facecolor='white', edgecolor='none', zorder=1))

# ================= overlay: legends and panel letters =================
ov = fig.add_axes([0, 0, 1, 1], zorder=10)
ov.set_xlim(0, W)
ov.set_ylim(H, 0)
ov.axis('off')
ov.patch.set_visible(False)

for letter, x, y in [('A', 1.5, 13.5), ('B', 376.5, 13.5), ('C', 1.0, 320.5), ('D', 375.5, 320.0)]:
    ov.text(x, y, letter, fontsize=11, fontweight='bold', ha='left', va='baseline')

# panel A legends
ov.text(316.7, 106.7, 'p.adjust', fontsize=6.5, ha='left', va='center')
ov.text(316.7, 203.3, 'Count', fontsize=6.5, ha='left', va='center')
for c, y in zip(a_count_legend, [218.3, 231.3, 246.0]):
    ov.scatter([324.3], [y], s=size_a(c), facecolors='white', edgecolors='#222222', linewidths=0.6)
    ov.text(333.3, y, str(c), fontsize=5.5, ha='left', va='center', color=TICK_C)

# panel B legend
ov.add_patch(Rectangle((637.7, 213.3), 81.6, 46.7, facecolor='white', edgecolor='#333333', lw=0.7))
ov.text(640.5, 224.0, 'Group', fontsize=7.5, ha='left', va='center')
for g, col, y in zip(b_groups, ['#4A86C8', '#E27070'], [239.0, 251.5]):
    ov.scatter([645.5], [y], s=area(7.0), color=col, alpha=0.9, edgecolors='none')
    ov.text(656.0, y, g, fontsize=6.4, ha='left', va='center')

# panel C legend
ov.text(45.0, 610.0, 'Significance', fontsize=8.6, ha='left', va='center')
for lab, col, xm, xt in zip(c_classes, [BLUE, RED, GREY], [125.0, 210.0, 290.0], [133.0, 217.0, 298.0]):
    ov.scatter([xm], [610.0], s=area(5.2), color=col, alpha=0.8, edgecolors='none')
    ov.text(xt, 610.0, lab, fontsize=6.7, ha='left', va='center')

# panel D legends
ov.text(670.0, 401.0, 'Pathway activity', fontsize=4.6, ha='left', va='center')
for lab, col, y in zip(['Down', 'Up'], [BLUE, RED], [414.3, 425.7]):
    ov.scatter([675.7], [y], s=area(8.7), color=col, edgecolors='none')
    ov.text(686.7, y, lab, fontsize=4.6, ha='left', va='center')
ov.text(671.0, 447.7, 'Ratio', fontsize=4.8, ha='left', va='center')
for r, y in zip(d_ratio_legend, [460.0, 470.7, 483.3]):
    ov.scatter([677.7], [y], s=size_d(r), color='black', edgecolors='none')
    ov.text(690.0, y, str(r), fontsize=4.4, ha='left', va='center')

fig.savefig('out.png', dpi=100)
